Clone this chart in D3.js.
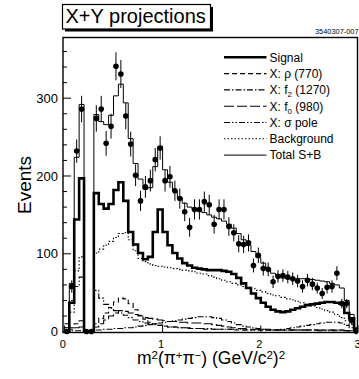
<!DOCTYPE html>
<html><head><meta charset="utf-8">
<script src="https://cdn.jsdelivr.net/npm/d3@7"></script>
<style>body{margin:0;background:#fff}svg{display:block}</style>
</head><body>
<script>
// ---- data ----
const binLo = [0.00,0.05,0.10,0.15,0.20,0.25,0.30,0.35,0.40,0.45,
  0.50,0.55,0.60,0.65,0.70,0.75,0.80,0.85,0.90,0.95,
  1.00,1.05,1.10,1.15,1.20,1.25,1.30,1.35,1.40,1.45,
  1.50,1.55,1.60,1.65,1.70,1.75,1.80,1.85,1.90,1.95,
  2.00,2.05,2.10,2.15,2.20,2.25,2.30,2.35,2.40,2.45,
  2.50,2.55,2.60,2.65,2.70,2.75,2.80,2.85,2.90,2.95];
const binWidth = 0.05;
const dataEvents = [0,58,232,286,0,0,274,286,242,264,
  341,331,277,241,201,168,186,194,221,236,
  194,199,181,171,154,134,157,157,167,163,
  138,157,157,135,127,113,112,114,85,98,
  81,80,64,71,72,70,68,65,58,66,
  61,56,49,57,58,75,36,36,14,0];
const dataErrors = [0,8,15,17,0,0,17,17,16,16,
  18,18,17,16,14,13,14,14,15,15,
  14,14,13,13,12,12,13,13,13,13,
  12,13,13,12,11,11,11,11,9,10,
  9,9,8,8,8,8,8,8,8,8,
  8,7,7,8,8,9,6,6,4,0];
const signal = [0,37,144,197,0,0,178,164,158,164,
  182,192,168,128,112,101,93,96,128,157,
  128,111,101,94,88,85,82,81,80,79,
  79,79,78,77,74,69,62,56,49,43,
  37,32,28,26,25,26,28,30,32,34,
  35,36,37,38,38,37,36,24,17,3];
const rho770 = [1,5,10,14,0,0,10,17,24,31,
  38,43,42,36,28,21,16,12,10,8,
  7,6,6,5,5,4,4,4,3,3,
  3,3,3,3,2,2,2,2,2,2,
  2,2,2,2,2,2,2,2,2,2,
  2,2,2,2,2,2,2,1,1,0];
const f2_1270 = [0,1,1,1,0,0,2,2,3,3,
  4,4,5,5,6,7,8,9,10,11,
  12,13,14,15,16,17,18,19,19,19,
  18,17,15,13,11,9,7,6,5,4,
  3,3,2,2,3,4,5,6,7,8,
  9,10,11,12,12,12,11,8,5,1];
const f0_980 = [1,3,5,6,0,0,6,10,15,20,
  24,27,26,24,22,20,18,17,16,15,
  14,13,13,12,12,11,11,11,10,10,
  9,8,7,6,5,4,4,3,3,3,
  3,2,2,2,2,2,2,2,2,2,
  2,2,2,2,2,2,2,1,1,0];
const sigmaPole = [10,40,58,70,0,0,53,43,35,30,
  27,24,21,18,15,13,11,10,9,8,
  7,6,6,5,5,5,4,4,4,4,
  3,3,3,3,3,3,2,2,2,2,
  2,2,2,2,2,2,2,2,2,2,
  2,1,1,1,1,1,1,1,1,0];
const background = [5,25,78,96,0,0,101,106,111,116,
  121,126,127,118,104,94,90,87,85,84,
  83,82,81,80,79,78,77,75,74,72,
  70,68,66,64,62,60,58,57,55,53,
  51,49,47,46,44,42,41,39,37,35,
  33,31,29,27,25,22,18,14,9,3];
const totalSB = [5,62,224,292,0,0,279,270,266,278,
  303,318,294,248,216,196,183,185,212,238,
  208,192,181,172,165,160,157,155,153,150,
  147,145,142,138,133,126,118,111,103,95,
  88,81,75,72,69,68,68,68,68,68,
  67,66,65,64,62,60,56,40,22,5];
const xTicks = [0,1,2,3];
const yTicks = [0,100,200,300];
const yMinorTicks = [20,40,60,80,120,140,160,180,220,240,260,280,320,340,360];

// ---- layout ----
const W = 359, H = 379;
const svg = d3.select("body").append("svg").attr("width", W).attr("height", H)
  .style("font-family", "'Liberation Sans', Arial, Helvetica, sans-serif");
const x = d3.scaleLinear().domain([0, 3]).range([64.4, 359]);
const y = d3.scaleLinear().domain([0, 378]).range([331.6, 37.5]);
const frame = {l: 63, t: 37.5, r: 357.5, b: 332.5};

// title box with shadow
svg.append("rect").attr("x", 65).attr("y", 7).attr("width", 148).attr("height", 24.5).attr("fill", "#000");
svg.append("rect").attr("x", 62.5).attr("y", 4.5).attr("width", 148).attr("height", 24.5)
  .attr("fill", "#fff").attr("stroke", "#000").attr("stroke-width", 1.2);
svg.append("text").attr("x", 65.5).attr("y", 22.5).attr("font-size", 20).text("X+Y projections");
svg.append("text").attr("x", 315).attr("y", 34).attr("font-size", 7.4).text("3540307-007");

// clip
svg.append("clipPath").attr("id", "clip").append("rect")
  .attr("x", frame.l).attr("y", frame.t).attr("width", frame.r - frame.l).attr("height", frame.b - frame.t + 2);
const g = svg.append("g").attr("clip-path", "url(#clip)");

const line = d3.line().x(d => x(d[0])).y(d => y(d[1])).curve(d3.curveStepAfter);
function stepPts(vals) {
  const pts = vals.map((v, i) => [binLo[i], v]);
  pts.push([binLo[binLo.length - 1] + binWidth, vals[vals.length - 1]]);
  return pts;
}
const series = [
  {vals: background, w: 1.1, dash: "1.5,2"},
  {vals: sigmaPole, w: 1.1, dash: "6,2,1.5,2,1.5,2"},
  {vals: f0_980, w: 1.1, dash: "10,3"},
  {vals: f2_1270, w: 1.1, dash: "6,2,1.5,2"},
  {vals: rho770, w: 1.1, dash: "5,3"},
  {vals: totalSB, w: 1, dash: null},
  {vals: signal, w: 2.6, dash: null}
];
series.forEach(s => {
  g.append("path").attr("d", line(stepPts(s.vals))).attr("fill", "none")
    .attr("stroke", "#000").attr("stroke-width", s.w)
    .attr("stroke-dasharray", s.dash);
});

// data points
const pts = dataEvents.map((v, i) => ({c: binLo[i] + binWidth / 2, v, e: dataErrors[i]}));
g.selectAll("line.err").data(pts.filter(d => d.e > 0)).join("line").attr("class", "err")
  .attr("x1", d => x(d.c)).attr("x2", d => x(d.c))
  .attr("y1", d => y(d.v - d.e)).attr("y2", d => y(d.v + d.e))
  .attr("stroke", "#000").attr("stroke-width", 1);
g.selectAll("circle").data(pts).join("circle")
  .attr("cx", d => x(d.c)).attr("cy", d => y(d.v)).attr("r", 2.8).attr("fill", "#000");

// frame
svg.append("rect").attr("x", frame.l).attr("y", frame.t)
  .attr("width", frame.r - frame.l).attr("height", frame.b - frame.t)
  .attr("fill", "none").attr("stroke", "#000").attr("stroke-width", 1.4);

// y ticks
svg.selectAll("line.ymaj").data(yTicks).join("line").attr("class", "ymaj")
  .attr("x1", frame.l).attr("x2", frame.l + 8).attr("y1", d => y(d)).attr("y2", d => y(d))
  .attr("stroke", "#000").attr("stroke-width", 1);
svg.selectAll("line.ymin").data(yMinorTicks).join("line").attr("class", "ymin")
  .attr("x1", frame.l).attr("x2", frame.l + 4).attr("y1", d => y(d)).attr("y2", d => y(d))
  .attr("stroke", "#000").attr("stroke-width", 1);
svg.selectAll("text.ylab").data(yTicks).join("text").attr("class", "ylab")
  .attr("x", 58).attr("y", d => y(d)).attr("dy", "0.36em").attr("text-anchor", "end")
  .attr("font-size", 13).text(d => d);

// x ticks
svg.selectAll("line.xmaj").data(xTicks).join("line").attr("class", "xmaj")
  .attr("x1", d => x(d)).attr("x2", d => x(d)).attr("y1", frame.b).attr("y2", frame.b - 7)
  .attr("stroke", "#000").attr("stroke-width", 1);
svg.selectAll("text.xlab").data(xTicks).join("text").attr("class", "xlab")
  .attr("x", d => x(d) - 1.5).attr("y", 347.5).attr("text-anchor", "middle")
  .attr("font-size", 11).text(d => d);

// axis titles
svg.append("text").attr("transform", "translate(31,185) rotate(-90)")
  .attr("text-anchor", "middle").attr("font-size", 19).text("Events");
const xt = svg.append("text").attr("x", 211).attr("y", 364).attr("text-anchor", "middle").attr("font-size", 17.5);
[["m", 0], ["2", 1], ["(π", 0], ["+", 1], ["π", 0], ["−", 1], [") (GeV/c", 0], ["2", 1], [")", 0], ["2", 1]]
  .forEach(([t, sup], i, arr) => {
    const prevSup = i > 0 ? arr[i - 1][1] : 0;
    const dy = sup && !prevSup ? -5 : (!sup && prevSup ? 5 : 0);
    xt.append("tspan").attr("dy", dy).attr("font-size", sup ? 11.5 : 17.5).text(t);
  });

// legend
const legend = [
  {label: [["Signal", 0]], w: 2.6, dash: null},
  {label: [["X: ρ (770)", 0]], w: 1.1, dash: "5,3"},
  {label: [["X: f", 0], ["2", 1], [" (1270)", 0]], w: 1.1, dash: "6,2,1.5,2"},
  {label: [["X: f", 0], ["0", 1], [" (980)", 0]], w: 1.1, dash: "10,3"},
  {label: [["X: σ pole", 0]], w: 1.1, dash: "6,2,1.5,2,1.5,2"},
  {label: [["Background", 0]], w: 1.1, dash: "1.5,2"},
  {label: [["Total S+B", 0]], w: 1, dash: null}
];
legend.forEach((d, i) => {
  const yy = 57.3 + i * 16.3;
  svg.append("line").attr("x1", 224).attr("x2", 266.5).attr("y1", yy).attr("y2", yy)
    .attr("stroke", "#000").attr("stroke-width", d.w).attr("stroke-dasharray", d.dash);
  const t = svg.append("text").attr("x", 269.5).attr("y", yy + 4.3).attr("font-size", 12);
  d.label.forEach(([s, sub], j, arr) => {
    const prev = j > 0 ? arr[j - 1][1] : 0;
    const dy = sub && !prev ? 3 : (!sub && prev ? -3 : 0);
    t.append("tspan").attr("dy", dy).attr("font-size", sub ? 8 : 12).text(s);
  });
});
</script>
</body></html>
